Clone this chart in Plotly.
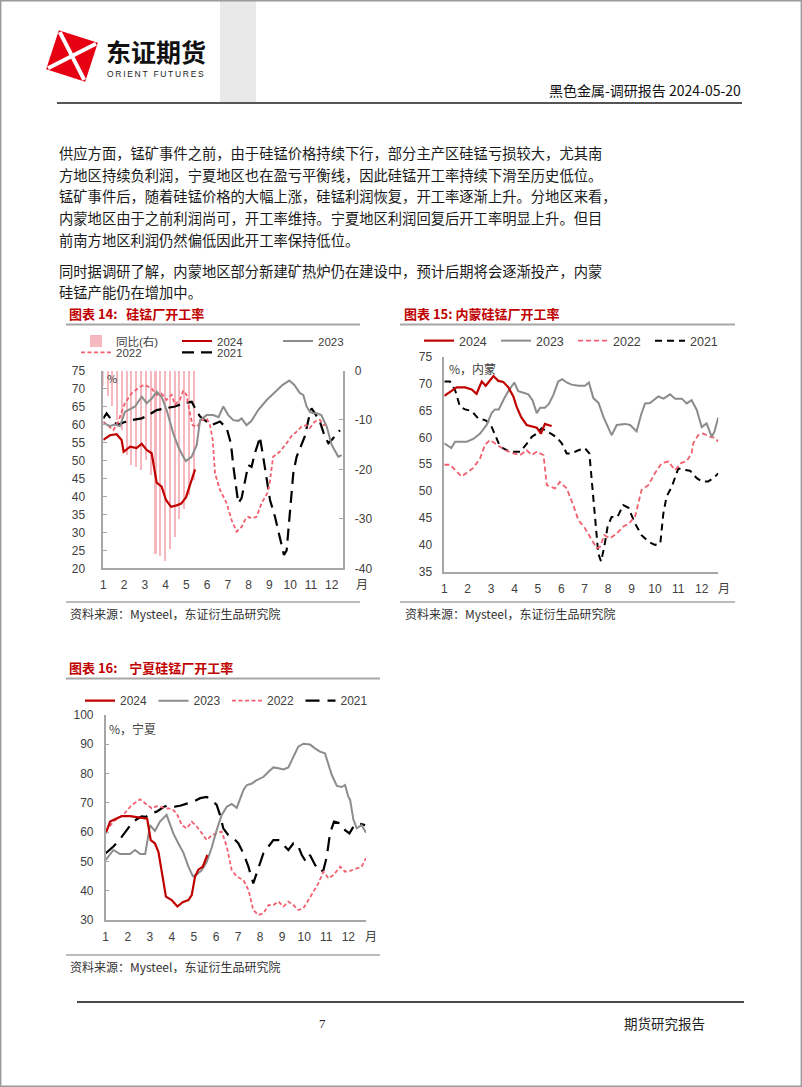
import math
import plotly.graph_objects as go

W, H = 802, 1087
def px(x): return x / W
def py(y): return 1 - y / H

# ---------------- data ----------------
months = list(range(1, 13))
month_labels = [str(m) for m in months]

# Chart 14: 硅锰厂开工率 (left axis %, right axis yoy)
c14_yoy_x = [1.0, 1.23, 1.46, 1.69, 1.92, 2.15, 2.38, 2.62, 2.85, 3.08,
             3.31, 3.54, 3.77, 4.0, 4.23, 4.46, 4.69, 4.92, 5.15, 5.38]
c14_yoy = [-3, -5, -7, -10, -12, -17, -19, -19.5, -20, -18,
           -21, -37, -37.5, -38.5, -36, -33.5, -30, -28, -25, -22]

c14_2024_x = [1.0, 1.32, 1.64, 1.88, 1.98, 2.29, 2.6, 2.85, 3.09, 3.33, 3.57, 3.81, 4.02, 4.26, 4.53, 4.75, 4.98, 5.2, 5.42]
c14_2024 = [55.7, 57.0, 57.3, 55.7, 52.4, 53.8, 53.4, 54.6, 52.9, 52.0, 43.8, 42.7, 39.0, 37.1, 37.5, 38.0, 39.7, 43.6, 47.5]

c14_2023_x = [1.0, 1.32, 1.56, 1.8, 2.04, 2.28, 2.53, 2.85, 3.09, 3.33, 3.57, 3.81, 4.05, 4.37, 4.61, 4.85, 4.98, 5.25, 5.5,
              5.66, 5.98, 6.3, 6.55, 6.78, 7.02, 7.26, 7.5, 7.66, 7.9, 8.14, 8.46, 8.87, 9.27, 9.64, 9.96, 10.2, 10.47,
              10.63, 10.79, 10.95, 11.11, 11.27, 11.5, 11.76, 12.0, 12.32, 12.48]
c14_2023 = [60.3, 59.6, 60.0, 59.5, 63.5, 64.3, 65.0, 67.7, 65.9, 67.2, 69.1, 67.7, 64.0, 57.5, 53.8, 51.0, 49.8, 51.0, 54.3,
            61.2, 62.6, 62.6, 62.0, 65.0, 62.6, 61.2, 61.0, 61.7, 59.8, 61.0, 64.0, 66.8, 69.1, 71.0, 72.2, 71.0, 68.7,
            68.2, 65.0, 63.5, 63.1, 63.1, 62.6, 59.4, 54.3, 51.0, 51.5]

c14_2022_x = [1.0, 1.25, 1.48, 1.7, 2.04, 2.37, 2.77, 3.0, 3.33, 3.57, 3.8, 4.05, 4.29, 4.45, 4.69, 4.85, 5.01, 5.17, 5.3,
              5.5, 5.74, 5.98, 6.14, 6.27, 6.38, 6.62, 6.94, 7.18, 7.42, 7.66, 7.82, 7.98, 8.14, 8.38, 8.62, 8.9, 9.01,
              9.18, 9.5, 9.83, 10.07, 10.31, 10.55, 10.79, 10.95, 11.19, 11.43, 11.6, 11.84]
c14_2022 = [60.8, 59.4, 58.4, 60.5, 65.9, 68.7, 70.5, 71.0, 70.0, 68.2, 68.6, 66.8, 68.2, 65.5, 66.8, 69.4, 68.2, 63.1, 59.8,
            59.3, 61.2, 61.7, 59.8, 55.7, 46.4, 41.8, 38.1, 33.4, 30.2, 31.5, 33.4, 34.3, 33.9, 34.3, 38.1, 40.9, 43.6,
            51.0, 52.4, 54.8, 56.8, 58.0, 59.4, 59.8, 59.0, 60.8, 61.3, 59.8, 60.3]

c14_2021_x = [1.0, 1.16, 1.48, 1.72, 2.0, 2.36, 2.85, 3.17, 3.57, 3.97, 4.45, 4.93, 5.26, 5.42, 5.66, 5.98, 6.22, 6.62, 6.94,
              7.1, 7.18, 7.26, 7.42, 7.5, 7.66, 7.82, 7.98, 8.14, 8.3, 8.46, 8.54, 8.7, 8.87, 9.03, 9.27, 9.51, 9.7, 9.83,
              9.99, 10.15, 10.31, 10.55, 10.7, 10.95, 11.03, 11.19, 11.43, 11.67, 11.84, 12.0, 12.24, 12.4]
c14_2021 = [61.7, 63.1, 60.6, 60.0, 60.6, 61.2, 61.7, 62.6, 64.0, 64.5, 65.0, 66.0, 66.3, 64.5, 62.2, 60.8, 59.8, 60.8, 59.0,
            55.7, 52.9, 48.5, 40.9, 38.1, 39.5, 44.6, 48.7, 48.2, 52.0, 54.8, 56.6, 51.0, 44.6, 39.0, 34.3, 28.8, 23.7, 25.0,
            35.3, 46.4, 51.0, 54.3, 56.6, 63.1, 64.5, 63.1, 60.8, 56.6, 54.8, 55.7, 57.5, 58.4]

c14_right_ticks = [0, -10, -20, -30, -40]
c14_right_labels = ['0', '-10', '-20', '-30', '-40']

# Chart 15: 内蒙硅锰厂开工率
c15_2024_x = [1.0, 1.24, 1.53, 1.89, 2.17, 2.38, 2.6, 2.77, 2.95, 3.1, 3.31, 3.52, 3.74, 3.95, 4.09, 4.28, 4.52, 4.74, 4.95,
              5.13, 5.3, 5.44, 5.59]
c15_2024 = [67.7, 68.5, 69.3, 69.3, 68.9, 68.1, 70.4, 69.6, 70.7, 71.4, 70.5, 70.3, 69.3, 67.6, 65.7, 63.8, 62.3, 62.0, 61.8,
            60.7, 62.5, 62.3, 62.1]

c15_2023_x = [1.0, 1.17, 1.3, 1.46, 1.96, 2.24, 2.53, 2.81, 3.02, 3.17, 3.33, 3.52, 3.74, 3.99, 4.16, 4.38, 4.59, 4.77, 4.95,
              5.1, 5.3, 5.47, 5.66, 5.87, 6.04, 6.23, 6.44, 6.73, 7.01, 7.18, 7.37, 7.59, 7.8, 8.15, 8.37, 8.73, 8.94, 9.22,
              9.41, 9.58, 9.79, 10.15, 10.37, 10.65, 10.86, 11.15, 11.36, 11.57, 11.79, 12.0, 12.21, 12.43, 12.54, 12.71]
c15_2023 = [58.9, 58.3, 58.0, 59.2, 59.2, 59.7, 60.7, 62.3, 64.5, 65.2, 65.2, 66.9, 68.6, 70.2, 68.6, 68.3, 68.0, 66.9, 64.5,
            65.5, 65.5, 66.2, 67.9, 70.4, 70.8, 70.2, 69.8, 69.6, 69.6, 70.2, 67.3, 66.4, 63.8, 60.4, 62.3, 62.5, 62.3, 61.1,
            64.2, 66.3, 66.4, 67.6, 67.2, 68.0, 67.2, 67.2, 66.3, 66.9, 65.1, 61.9, 62.6, 60.1, 61.0, 63.7]

c15_2022_x = [1.0, 1.24, 1.74, 2.24, 2.53, 2.74, 2.95, 3.17, 3.6, 3.95, 4.24, 4.52, 4.74, 4.95, 5.24, 5.38, 5.73, 5.94, 6.23,
              6.51, 6.73, 7.01, 7.3, 7.51, 7.65, 7.84, 8.08, 8.37, 8.65, 8.87, 9.15, 9.43, 9.72, 10.0, 10.29, 10.58, 10.86,
              11.12, 11.36, 11.57, 11.64, 11.85, 12.06, 12.35, 12.57, 12.71]
c15_2022 = [54.9, 54.9, 52.7, 54.3, 56.1, 58.6, 59.5, 58.9, 57.6, 57.0, 56.7, 57.6, 56.7, 57.3, 56.7, 51.1, 50.5, 51.7, 50.5,
            47.4, 44.6, 43.1, 40.9, 39.4, 39.6, 41.8, 41.2, 42.1, 43.4, 43.9, 45.2, 50.2, 51.1, 53.3, 55.2, 55.5, 53.9,
            55.2, 55.6, 57.0, 58.9, 60.4, 60.7, 60.1, 59.9, 59.2]

c15_2021_x = [1.0, 1.24, 1.46, 1.67, 1.89, 2.17, 2.45, 2.74, 2.95, 3.17, 3.31, 3.38, 3.67, 3.95, 4.24, 4.45, 4.52, 4.74, 4.95,
              5.16, 5.38, 5.59, 5.8, 6.02, 6.23, 6.44, 6.73, 7.01, 7.2, 7.3, 7.44, 7.58, 7.7, 7.84, 7.98, 8.15, 8.4, 8.65,
              8.87, 9.15, 9.43, 9.72, 10.0, 10.23, 10.36, 10.5, 10.72, 11.0, 11.21, 11.5, 11.79, 12.0, 12.28, 12.5, 12.71]
c15_2021 = [70.4, 70.4, 68.8, 65.7, 65.2, 64.9, 63.5, 63.2, 62.7, 60.4, 58.9, 58.3, 57.6, 57.3, 57.3, 58.6, 58.8, 60.1, 60.7,
            61.7, 61.2, 60.6, 60.0, 58.9, 57.0, 57.0, 57.6, 58.0, 57.0, 52.1, 44.0, 38.4, 36.9, 39.7, 43.4, 45.2, 45.2, 47.4,
            46.9, 44.0, 41.8, 40.6, 40.0, 40.2, 45.8, 49.0, 50.8, 54.2, 54.0, 53.8, 52.4, 51.8, 51.8, 52.4, 53.3]

# Chart 16: 宁夏硅锰厂开工率
c16_2024_x = [1.0, 1.2, 1.42, 1.73, 2.1, 2.56, 2.88, 3.04, 3.23, 3.39, 3.54, 3.73, 3.99, 4.25, 4.49, 4.75, 4.9, 5.05, 5.2,
              5.4, 5.61]
c16_2024 = [59.6, 63.6, 64.4, 65.5, 65.5, 65.1, 64.6, 57.3, 56.2, 53.3, 46.0, 38.0, 36.8, 34.6, 36.1, 36.8, 38.5, 44.8, 47.2,
            48.2, 52.2]

c16_2023_x = [1.0, 1.35, 1.65, 2.1, 2.33, 2.56, 2.79, 3.01, 3.23, 3.46, 3.76, 4.07, 4.29, 4.52, 4.75, 4.95, 5.13, 5.36, 5.58,
              5.8, 6.03, 6.26, 6.49, 6.71, 6.94, 7.1, 7.25, 7.4, 7.63, 7.85, 8.16, 8.38, 8.6, 8.83, 9.06, 9.28, 9.51, 9.73,
              9.96, 10.26, 10.49, 10.71, 10.94, 11.09, 11.25, 11.48, 11.7, 11.85, 12.0, 12.08, 12.23, 12.38, 12.6, 12.8]
c16_2023 = [50.5, 53.9, 52.5, 52.5, 53.9, 52.5, 52.5, 62.4, 60.4, 63.6, 65.9, 59.5, 56.2, 53.0, 48.2, 45.0, 45.6, 47.0, 49.9,
            54.6, 60.7, 65.9, 68.7, 69.6, 68.3, 71.5, 74.5, 76.1, 76.6, 77.8, 78.9, 80.6, 82.1, 81.8, 81.4, 82.1, 85.8, 89.2,
            90.2, 89.9, 88.6, 87.5, 86.9, 83.0, 79.5, 75.8, 75.4, 76.1, 72.1, 71.0, 64.2, 61.3, 62.4, 59.8]

c16_2022_x = [1.0, 1.35, 1.8, 2.18, 2.56, 2.86, 3.09, 3.31, 3.54, 3.76, 3.99, 4.22, 4.45, 4.68, 4.9, 5.13, 5.36, 5.58, 5.81,
              6.03, 6.26, 6.49, 6.71, 6.94, 7.24, 7.47, 7.69, 7.92, 8.15, 8.38, 8.6, 8.83, 9.06, 9.28, 9.51, 9.73, 9.96,
              10.19, 10.42, 10.64, 10.87, 11.1, 11.33, 11.63, 11.85, 12.08, 12.38, 12.6, 12.8]
c16_2022 = [60.2, 63.6, 65.9, 69.3, 71.2, 69.3, 68.1, 68.9, 68.5, 68.1, 68.0, 66.4, 62.4, 61.3, 63.6, 61.9, 59.6, 57.3, 59.0,
            59.6, 60.2, 55.0, 47.1, 44.8, 43.7, 40.3, 33.4, 31.7, 32.3, 35.1, 35.1, 36.3, 34.6, 36.3, 35.1, 33.4, 34.0,
            36.8, 39.7, 42.5, 46.5, 44.2, 45.4, 48.2, 46.5, 46.8, 47.6, 48.2, 51.1]

c16_2021_x = [1.0, 1.35, 1.65, 1.95, 2.18, 2.41, 2.63, 2.83, 3.04, 3.31, 3.61, 3.84, 4.14, 4.37, 4.67, 4.97, 5.28, 5.58, 5.81,
              6.03, 6.18, 6.33, 6.56, 6.79, 7.01, 7.24, 7.47, 7.69, 7.92, 8.15, 8.38, 8.6, 8.83, 9.06, 9.28, 9.51, 9.69,
              9.89, 10.08, 10.26, 10.49, 10.72, 10.87, 11.02, 11.17, 11.35, 11.63, 11.85, 12.05, 12.23, 12.46, 12.76]
c16_2021 = [52.8, 55.1, 57.6, 60.7, 63.0, 64.4, 65.4, 65.2, 66.4, 67.0, 68.5, 69.3, 68.7, 69.0, 69.8, 70.4, 71.6, 72.0, 71.0,
            69.3, 65.9, 61.3, 59.0, 57.9, 56.2, 52.8, 48.2, 42.5, 47.7, 52.8, 55.1, 57.3, 57.3, 55.7, 53.9, 56.2, 55.9,
            52.2, 49.9, 52.2, 48.8, 46.5, 47.0, 51.6, 59.6, 63.6, 63.0, 60.7, 59.6, 61.9, 63.0, 62.4]

# ---------------- styles ----------------
RED = '#C00000'
GRAY = '#8C8C8C'
PINK = '#F25F6E'
BLACK = '#000000'
AXC = '#A6A6A6'
TXT = '#404040'
NUMFONT = 'Liberation Sans, Arial, Noto Sans CJK SC'
CJK = 'Noto Sans CJK SC'

fig = go.Figure()

# chart 14 bars (base y axis, right side)
fig.add_trace(go.Bar(x=c14_yoy_x, y=c14_yoy, xaxis='x', yaxis='y', name='同比(右)',
                     marker=dict(color='#F6B8BE', line=dict(width=0)), width=0.075,
                     legend='legend', legendrank=1, hoverinfo='skip'))

def add_line(x, y, xa, ya, name, color, width, dash, legend, rank):
    fig.add_trace(go.Scatter(x=x, y=y, xaxis=xa, yaxis=ya, mode='lines', name=name,
                             line=dict(color=color, width=width, dash=dash),
                             legend=legend, legendrank=rank, hoverinfo='skip'))

# chart 14 lines
add_line(c14_2021_x, c14_2021, 'x', 'y2', '2021', BLACK, 2.2, '12px,7px', 'legend2', 5)
add_line(c14_2022_x, c14_2022, 'x', 'y2', '2022', PINK, 1.8, '4px,2.5px', 'legend2', 4)
add_line(c14_2023_x, c14_2023, 'x', 'y2', '2023', GRAY, 2.0, 'solid', 'legend', 3)
add_line(c14_2024_x, c14_2024, 'x', 'y2', '2024', RED, 2.2, 'solid', 'legend', 2)

# chart 15 lines
add_line(c15_2021_x, c15_2021, 'x2', 'y3', '2021', BLACK, 2.0, '7px,5px', 'legend3', 5)
add_line(c15_2022_x, c15_2022, 'x2', 'y3', '2022', PINK, 1.8, '5px,3px', 'legend3', 4)
add_line(c15_2023_x, c15_2023, 'x2', 'y3', '2023', GRAY, 2.0, 'solid', 'legend3', 3)
add_line(c15_2024_x, c15_2024, 'x2', 'y3', '2024', RED, 2.2, 'solid', 'legend3', 2)

# chart 16 lines
add_line(c16_2021_x, c16_2021, 'x3', 'y4', '2021', BLACK, 2.2, '14px,8px', 'legend4', 5)
add_line(c16_2022_x, c16_2022, 'x3', 'y4', '2022', PINK, 1.8, '4px,2.5px', 'legend4', 4)
add_line(c16_2023_x, c16_2023, 'x3', 'y4', '2023', GRAY, 2.0, 'solid', 'legend4', 3)
add_line(c16_2024_x, c16_2024, 'x3', 'y4', '2024', RED, 2.2, 'solid', 'legend4', 2)

tick_font = dict(family=NUMFONT, size=12, color=TXT)

def xcfg(x0, x1, rng, anchor):
    return dict(domain=[px(x0), px(x1)], range=rng, anchor=anchor, tickmode='array',
                tickvals=months, ticktext=month_labels, showgrid=False, zeroline=False,
                showline=True, linecolor=AXC, linewidth=1.5, ticks='', tickfont=tick_font,
                ticklabelstandoff=5, fixedrange=True)

def ycfg(top, bottom, rng, anchor, dtick, side='left', ticks='', standoff=8, **kw):
    d = dict(domain=[py(bottom), py(top)], range=rng, anchor=anchor, side=side,
             tickmode='linear', tick0=rng[0], dtick=dtick, showgrid=False, zeroline=False,
             showline=True, linecolor=AXC, linewidth=1.5, ticks=ticks, ticklen=4,
             tickcolor=AXC, tickwidth=1, tickfont=tick_font, ticklabelstandoff=standoff,
             fixedrange=True)
    d.update(kw)
    return d

def legend_cfg(sym_x, yc, entrywidth, size=12):
    return dict(orientation='h', x=px(sym_x - 5), y=py(yc), xanchor='left', yanchor='middle',
                entrywidth=entrywidth, entrywidthmode='pixels', bgcolor='rgba(0,0,0,0)',
                borderwidth=0, font=dict(family=NUMFONT, size=size, color=TXT),
                itemclick=False, itemdoubleclick=False, tracegroupgap=0, itemwidth=30)

# ---------------- shapes ----------------
shapes = []
def hline(x0, x1, y, color, width):
    shapes.append(dict(type='line', xref='paper', yref='paper', x0=px(x0), x1=px(x1),
                       y0=py(y), y1=py(y), line=dict(color=color, width=width)))

# page border
shapes.append(dict(type='rect', xref='paper', yref='paper', x0=px(0.7), x1=px(801.3), y0=py(1086.3), y1=py(0.7),
                   line=dict(color='#9A9A9A', width=1.4), fillcolor='rgba(0,0,0,0)', layer='above'))
# header band
shapes.append(dict(type='rect', xref='paper', yref='paper', x0=px(220), x1=px(256), y0=py(102), y1=py(1),
                   line=dict(width=0), fillcolor='#E9E9E9', layer='below'))
# header / footer rules
hline(57, 742, 103, '#555555', 2)
hline(77, 744, 1002, '#4A4A4A', 2)
# chart frames
hline(66, 360, 324.5, AXC, 2)
hline(400, 735, 324.5, AXC, 2)
hline(66, 380, 678.5, AXC, 2)
hline(66, 360, 602, AXC, 1.5)
hline(400, 735, 602, AXC, 1.5)
hline(66, 380, 955, AXC, 1.5)

# logo: rotated red square split by white diagonals
cx, cy, half, ang = 72, 56, 19, math.radians(18)
pts = []
for sx, sy in [(-1, -1), (1, -1), (1, 1), (-1, 1)]:
    rx = sx * half * math.cos(ang) - sy * half * math.sin(ang)
    ry = sx * half * math.sin(ang) + sy * half * math.cos(ang)
    pts.append((cx + rx, cy + ry))
path = 'M ' + ' L '.join(f'{px(a):.5f},{py(b):.5f}' for a, b in pts) + ' Z'
shapes.append(dict(type='path', xref='paper', yref='paper', path=path, fillcolor='#E60012',
                   line=dict(color='#E60012', width=3)))
for i in (0, 1):
    a, b = pts[i], pts[i + 2]
    shapes.append(dict(type='line', xref='paper', yref='paper', x0=px(a[0]), y0=py(a[1]),
                       x1=px(b[0]), y1=py(b[1]), line=dict(color='white', width=4)))

# ---------------- annotations ----------------
ann = []
def text(x, y, s, size=12, color=TXT, family=CJK, xanchor='left', bold=False):
    if bold:
        s = '<b>' + s + '</b>'
    ann.append(dict(x=px(x), y=py(y), xref='paper', yref='paper', text=s, showarrow=False,
                    xanchor=xanchor, yanchor='middle', font=dict(size=size, color=color, family=family)))

text(104, 51, '东证期货', 25, '#111111', CJK, bold=True)
text(105, 74, 'O\u2009R\u2009I\u2009E\u2009N\u2009T\u2009\u2009 F\u2009U\u2009T\u2009U\u2009R\u2009E\u2009S', 8.5, '#222222', NUMFONT)
text(743, 90, '黑色金属-调研报告 2024-05-20', 14, '#111111', CJK, xanchor='right')

body = [
    '供应方面，锰矿事件之前，由于硅锰价格持续下行，部分主产区硅锰亏损较大，尤其南',
    '方地区持续负利润，宁夏地区也在盈亏平衡线，因此硅锰开工率持续下滑至历史低位。',
    '锰矿事件后，随着硅锰价格的大幅上涨，硅锰利润恢复，开工率逐渐上升。分地区来看，',
    '内蒙地区由于之前利润尚可，开工率维持。宁夏地区利润回复后开工率明显上升。但目',
    '前南方地区利润仍然偏低因此开工率保持低位。',
    '同时据调研了解，内蒙地区部分新建矿热炉仍在建设中，预计后期将会逐渐投产，内蒙',
    '硅锰产能仍在增加中。',
]
body_y = [153, 174.5, 196, 217.5, 239, 270, 291.5]
for s, y in zip(body, body_y):
    text(57, y, s, 14.3, '#1A1A1A', CJK)

text(67, 313, '图表 14:\u00a0\u00a0\u00a0硅锰厂开工率', 13, RED, CJK, bold=True)
text(402, 313, '图表 15:\u00a0内蒙硅锰厂开工率', 13, RED, CJK, bold=True)
text(67, 667, '图表 16:\u00a0\u00a0\u00a0\u00a0宁夏硅锰厂开工率', 13, RED, CJK, bold=True)

src = '资料来源：Mysteel，东证衍生品研究院'
text(68, 613, src, 12, '#333333', CJK)
text(403, 613, src, 12, '#333333', CJK)
text(68, 966, src, 12, '#333333', CJK)

text(105, 378, '%', 11, TXT, CJK)
text(447, 368, '%，内蒙', 12, TXT, CJK)
text(107, 728, '%，宁夏', 12, TXT, CJK)
text(362, 583, '月', 12, TXT, CJK, xanchor='center')
text(724, 587, '月', 12, TXT, CJK, xanchor='center')
text(371, 935, '月', 12, TXT, CJK, xanchor='center')

text(322, 1023, '7', 13, '#222222', 'Liberation Serif', xanchor='center')
text(664, 1023, '期货研究报告', 13.5, '#222222', CJK, xanchor='center')

# ---------------- layout ----------------
fig.update_layout(
    width=W, height=H, margin=dict(l=0, r=0, t=0, b=0, autoexpand=False),
    paper_bgcolor='white', plot_bgcolor='rgba(0,0,0,0)',
    font=dict(family=CJK, color=TXT), bargap=0,
    xaxis=xcfg(103.3, 342.7, [1, 12.53], 'y'),
    yaxis=ycfg(370.5, 568.3, [-40, 0], 'x', 10, side='right', ticks='inside', standoff=8,
               tickmode='array', tickvals=c14_right_ticks, ticktext=c14_right_labels),
    yaxis2=ycfg(370.5, 568.3, [20, 75], 'x', 5, side='left', ticks='inside', standoff=14, overlaying='y'),
    xaxis2=xcfg(444.3, 718.3, [1, 12.71], 'y3'),
    yaxis3=ycfg(356.7, 571.7, [35, 75], 'x2', 5, standoff=8),
    xaxis3=xcfg(105.7, 366.0, [1, 12.80], 'y4'),
    yaxis4=ycfg(715, 920, [30, 100], 'x3', 10, ticks='inside', standoff=8),
    legend=legend_cfg(81, 341, 56, 11.5),
    legend2=legend_cfg(81, 352.3, 56, 11.5),
    legend3=legend_cfg(424, 341, 32, 12.5),
    legend4=legend_cfg(85, 700.7, 28.5, 12),
    shapes=shapes, annotations=ann, showlegend=True,
)

fig.write_html('out.html', config={'displayModeBar': False},
               post_script="document.body.style.margin='0';document.body.style.padding='0';"
                           "document.body.style.overflow='hidden';"
                           "document.documentElement.style.overflow='hidden';")
